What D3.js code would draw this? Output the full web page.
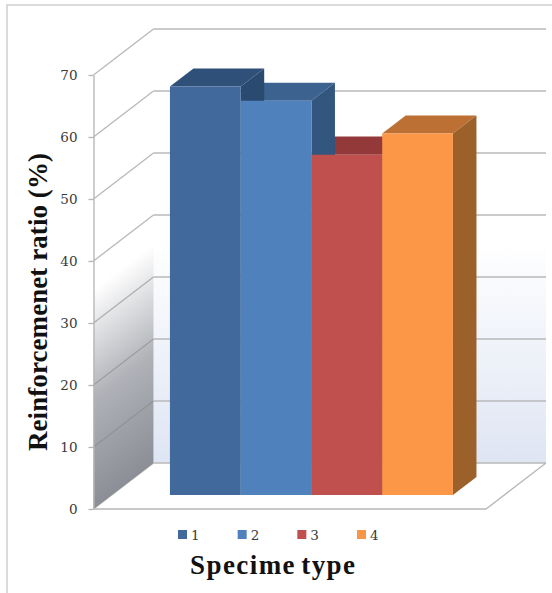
<!DOCTYPE html>
<html>
<head>
<meta charset="utf-8">
<script src="https://cdn.jsdelivr.net/npm/d3@7"></script>
<style>
  body { margin: 0; background: #fff; }
  svg { display: block; }
  text { font-family: "Liberation Serif", serif; }
</style>
</head>
<body>
<div id="chart"></div>
<script>
const categories = ["1", "2", "3", "4"];
const values = [65.9, 63.6, 54.9, 58.3];
const yTicks = [0, 10, 20, 30, 40, 50, 60, 70];
const frontColors = ["#41699c", "#4f81bd", "#c0504d", "#fb9746"];
const topColors = ["#2f5078", "#3c6290", "#93393a", "#bc7033"];
const sideColors = ["#2b4a70", "#33567f", "#8c3734", "#9c602b"];
const legendColors = ["#41699c", "#4f81bd", "#c0504d", "#f79646"];
const yTitle = "Reinforcemenet ratio (%)";
const xTitle = "Specime type";

const width = 552, height = 593;

// the 3d box: front plane scales plus a shift for depth
const y = d3.scaleLinear().domain([0, 70]).range([509, 75]);
const x = d3.scaleBand().domain(categories).range([151.7, 434.7]);
const depthX = 60, depthY = -46;
const floorLeft = 93.5, floorRight = 486;
const barFront = 0.304, barBack = 0.696;

const pt = (px, v, z) => [px + depthX * z, y(v) + depthY * z];
const poly = pts => pts.map(p => p.join(",")).join(" ");

const svg = d3.select("#chart")
  .append("svg")
  .attr("width", width)
  .attr("height", height);

const defs = svg.append("defs");

const wallGrad = defs.append("linearGradient")
  .attr("id", "wall").attr("x1", 0).attr("y1", 0).attr("x2", 0).attr("y2", 1);
wallGrad.append("stop").attr("offset", "0.49").attr("stop-color", "#ffffff");
wallGrad.append("stop").attr("offset", "1").attr("stop-color", "#dee5f3");

// side wall shading runs across the diagonal of the wall
const sideGrad = defs.append("linearGradient")
  .attr("id", "side").attr("gradientUnits", "userSpaceOnUse")
  .attr("x1", 93).attr("y1", 290).attr("x2", 198.8).attr("y2", 428);
sideGrad.append("stop").attr("offset", "0").attr("stop-color", "#ffffff");
sideGrad.append("stop").attr("offset", "0.5").attr("stop-color", "#b0b2b8");
sideGrad.append("stop").attr("offset", "1").attr("stop-color", "#8b8e96");

// outer frame
svg.append("path")
  .attr("d", d3.line()([[7, height], [7, 5], [width, 5]]))
  .attr("fill", "none")
  .attr("stroke", "#cfcfcf")
  .attr("stroke-width", 1.5);

// walls
svg.append("polygon")
  .attr("points", poly([pt(floorLeft, 0, 1), pt(floorRight, 0, 1), pt(floorRight, 70, 1), pt(floorLeft, 70, 1)]))
  .attr("fill", "url(#wall)");

const sideClip = defs.append("clipPath").attr("id", "sideClip");
sideClip.append("rect").attr("x", 90).attr("y", 248).attr("width", 70).attr("height", 270);
svg.append("polygon")
  .attr("points", poly([pt(floorLeft, 0, 0), pt(floorLeft, 0, 1), pt(floorLeft, 70, 1), pt(floorLeft, 70, 0)]))
  .attr("fill", "url(#side)")
  .attr("clip-path", "url(#sideClip)");

// gridlines
const grid = svg.append("g").attr("fill", "none").attr("stroke", "#b8b8b8").attr("stroke-width", 1.3);
yTicks.forEach(t => {
  grid.append("path")
    .attr("d", d3.line()([pt(floorLeft, t, 0), pt(floorLeft, t, 1)]))
    .attr("stroke", "#888")
    .attr("stroke-opacity", 0.6);
  grid.append("path")
    .attr("d", d3.line()([pt(floorLeft, t, 1), pt(floorRight, t, 1)]));
});
// floor edges and axis
grid.append("path")
  .attr("d", d3.line()([pt(floorLeft, 0, 0), pt(floorRight, 0, 0), pt(floorRight, 0, 1)]));

const axis = svg.append("g")
  .attr("transform", "translate(" + floorLeft + ",0)")
  .call(d3.axisLeft(y).tickValues(yTicks).tickSize(5).tickPadding(11).tickSizeOuter(0));
axis.selectAll("path,line").attr("stroke", "#b4b4b4").attr("stroke-width", 1.3);
axis.selectAll("text")
  .attr("font-size", 13.5)
  .style("font-family", '"DejaVu Serif", serif')
  .attr("fill", "#3a3a3a");

// bars: tops, then sides, then fronts so the overlaps come out right
const rows = categories.map((c, i) => ({ c: c, v: values[i], i: i }));

svg.append("g").selectAll("polygon").data(rows).enter().append("polygon")
  .attr("points", d => poly([
    pt(x(d.c), d.v, barFront),
    pt(x(d.c) + x.bandwidth(), d.v, barFront),
    pt(x(d.c) + x.bandwidth(), d.v, barBack),
    pt(x(d.c), d.v, barBack)]))
  .attr("fill", d => topColors[d.i]);

svg.append("g").selectAll("polygon").data(rows).enter().append("polygon")
  .attr("points", d => poly([
    pt(x(d.c) + x.bandwidth(), 0, barFront),
    pt(x(d.c) + x.bandwidth(), 0, barBack),
    pt(x(d.c) + x.bandwidth(), d.v, barBack),
    pt(x(d.c) + x.bandwidth(), d.v, barFront)]))
  .attr("fill", d => sideColors[d.i]);

svg.append("g").selectAll("polygon").data(rows).enter().append("polygon")
  .attr("points", d => poly([
    pt(x(d.c), 0, barFront),
    pt(x(d.c) + x.bandwidth(), 0, barFront),
    pt(x(d.c) + x.bandwidth(), d.v, barFront),
    pt(x(d.c), d.v, barFront)]))
  .attr("fill", d => frontColors[d.i]);

// legend
const legendX = d3.scaleLinear().domain([0, 3]).range([178, 357]);
const legend = svg.append("g").selectAll("g").data(categories).enter().append("g")
  .attr("transform", (d, i) => "translate(" + legendX(i) + ",530)");
legend.append("rect")
  .attr("width", 9).attr("height", 9)
  .attr("fill", (d, i) => legendColors[i]);
legend.append("text")
  .attr("x", 13).attr("y", 9.5)
  .attr("font-size", 13.5)
  .style("font-family", '"DejaVu Serif", serif')
  .attr("fill", "#3a3a3a")
  .text(d => d);

// titles
svg.append("text")
  .attr("transform", "translate(47,302) rotate(-90)")
  .attr("text-anchor", "middle")
  .attr("font-size", 27)
  .attr("font-weight", "bold")
  .attr("fill", "#111")
  .attr("textLength", 298)
  .attr("lengthAdjust", "spacing")
  .text(yTitle);
svg.append("text")
  .attr("x", 272.5).attr("y", 574)
  .attr("text-anchor", "middle")
  .attr("font-size", 27)
  .attr("font-weight", "bold")
  .attr("fill", "#111")
  .attr("textLength", 165)
  .attr("lengthAdjust", "spacing")
  .attr("word-spacing", -3)
  .text(xTitle);
</script>
</body>
</html>
